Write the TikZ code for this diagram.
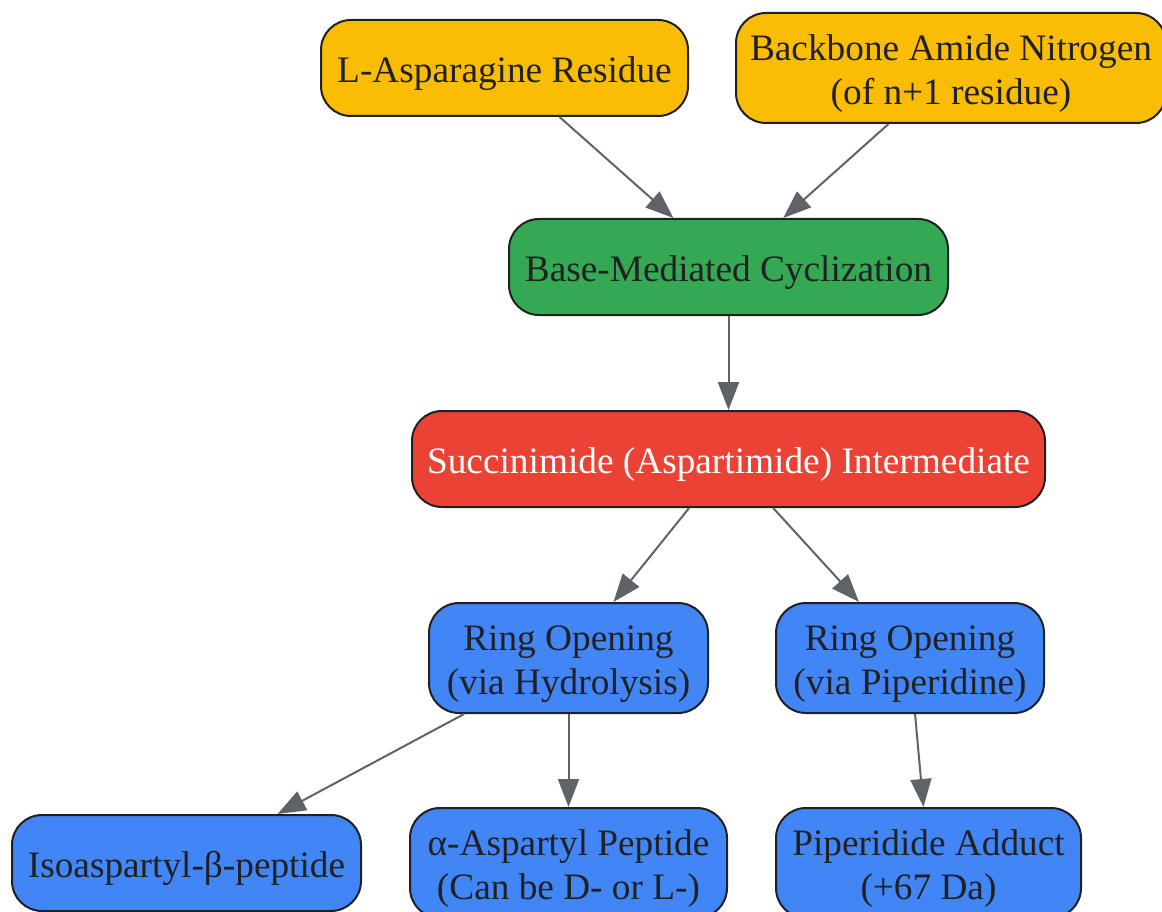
\documentclass[tikz,border=0pt]{standalone}
\usepackage{fontspec}
\setmainfont{Liberation Serif}
\usetikzlibrary{arrows.meta}
\definecolor{ylw}{HTML}{FBBC04}
\definecolor{grn}{HTML}{34A853}
\definecolor{rd}{HTML}{EA4335}
\definecolor{blu}{HTML}{4285F4}
\definecolor{txt}{HTML}{202124}
\definecolor{edg}{HTML}{5F6368}
\newcommand{\tx}[1]{\raisebox{-5.5pt}[\height][\depth]{\begin{tabular}{@{}c@{}}#1\end{tabular}}}
\begin{document}
\begin{tikzpicture}[x=1pt,y=-1pt,
  box/.style={draw=txt,line width=2pt,rounded corners=30pt,inner sep=0pt,align=center,
    text=txt,font=\fontsize{37.3}{44}\selectfont},
  edge/.style={draw=edg,line width=2pt,-{Triangle[length=28pt,width=21pt]}}]
\useasboundingbox (0,0) rectangle (1162,912);
\node[box,fill=ylw,minimum width=367pt,minimum height=96pt] (lasp) at (504.5,68) {\tx{L-Asparagine Residue}};
\node[box,fill=ylw,minimum width=430pt,minimum height=110pt] (bb) at (951,68) {\tx{Backbone Amide Nitrogen\\(of n+1 residue)}};
\node[box,fill=grn,minimum width=439pt,minimum height=96pt] (base) at (728.5,267) {\tx{Base-Mediated Cyclization}};
\node[box,fill=rd,text=white,minimum width=633pt,minimum height=96pt] (succ) at (728.5,459) {\tx{Succinimide (Aspartimide) Intermediate}};
\node[box,fill=blu,minimum width=279pt,minimum height=110pt] (hyd) at (568.5,658) {\tx{Ring Opening\\(via Hydrolysis)}};
\node[box,fill=blu,minimum width=268pt,minimum height=110pt] (pip) at (910,658) {\tx{Ring Opening\\(via Piperidine)}};
\node[box,fill=blu,minimum width=349pt,minimum height=96pt] (iso) at (186.5,863) {\tx{Isoaspartyl-β-peptide}};
\node[box,fill=blu,minimum width=317pt,minimum height=110pt] (alpha) at (568.5,863) {\tx{α-Aspartyl Peptide\\(Can be D- or L-)}};
\node[box,fill=blu,minimum width=305pt,minimum height=110pt] (add) at (928.5,863) {\tx{Piperidide Adduct\\(+67 Da)}};
\draw[edge] (lasp) -- (base);
\draw[edge] (bb) -- (base);
\draw[edge] (base) -- (succ);
\draw[edge] (succ) -- (hyd);
\draw[edge] (succ) -- (pip);
\draw[edge] (hyd) -- (iso);
\draw[edge] (hyd) -- (alpha);
\draw[edge] (pip) -- (add);
\end{tikzpicture}
\end{document}
